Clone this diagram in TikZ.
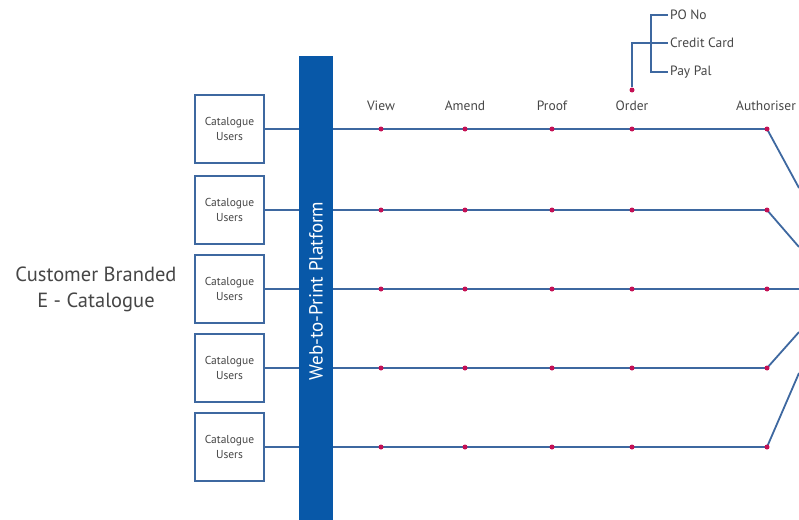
\documentclass[tikz,border=0pt]{standalone}
\usepackage{fontspec}
\setmainfont{PT Sans}
\usetikzlibrary{positioning}

\definecolor{linkblue}{RGB}{62,104,160}
\definecolor{barblue}{RGB}{8,88,168}
\definecolor{dotred}{RGB}{196,16,84}
\definecolor{textgrey}{RGB}{70,70,70}

\tikzset{
  userbox/.style={draw=linkblue, line width=1.2pt, fill=white,
    minimum width=69pt, minimum height=68pt, align=center, inner sep=1pt,
    text=textgrey, font=\fontsize{11.5}{15}\selectfont},
  link/.style={draw=linkblue, line width=1.8pt},
  dot/.style={circle, fill=dotred, inner sep=0pt, minimum size=5pt},
  steplabel/.style={text=textgrey, font=\fontsize{13.5}{16}\selectfont},
  paylabel/.style={text=textgrey, anchor=west, inner sep=2pt,
    font=\fontsize{13.5}{16}\selectfont}
}

\begin{document}
\begin{tikzpicture}[x=1pt, y=-1pt]
  \useasboundingbox (0,0) rectangle (799,519);
  \clip (0,0) rectangle (799,519);

  % title on the left
  \node[text=textgrey, align=center, font=\fontsize{20.5}{26}\selectfont]
    (title) at (96,289) {Customer Branded\\E - Catalogue};

  % platform bar
  \node[fill=barblue, minimum width=34pt, minimum height=480pt,
    inner sep=0pt, anchor=north] (platform) at (316,56) {};
  \node[rotate=90, text=white, font=\fontsize{19}{22}\selectfont]
    (platformtext) at (316,291) {Web-to-Print Platform};

  % user rows
  \foreach \i/\y in {1/129, 2/210, 3/289, 4/368, 5/447} {
    \node[userbox] (user\i) at (229.5,\y) {Catalogue\\Users};
    \foreach \j/\x in {1/381, 2/465, 3/552, 4/632, 5/767}
      \coordinate (p\i-\j) at (\x,\y);
    \draw[link] (user\i.east) -- (user\i.east -| platform.west);
    \draw[link] (user\i.east -| platform.east) -- (p\i-5);
  }

  % lines leaving to the right
  \coordinate (out1) at (799,188);
  \coordinate (out2) at (799,247);
  \coordinate (out3) at (799,289);
  \coordinate (out4) at (799,332);
  \coordinate (out5) at (799,373);
  \foreach \i in {1,...,5}
    \draw[link] (p\i-5) -- (out\i);

  % dots on every step
  \foreach \i in {1,...,5}
    \foreach \j in {1,...,5}
      \node[dot] (d\i-\j) at (p\i-\j) {};

  % step names
  \node[steplabel] (view) at (381,106) {View};
  \node[steplabel] (amend) at (465,106) {Amend};
  \node[steplabel] (proof) at (552,106) {Proof};
  \node[steplabel] (order) at (632,106) {Order};
  \node[steplabel] (auth) at (766,106) {Authoriser};

  % payment options
  \node[dot] (orderdot) at (632,90) {};
  \coordinate (spinetop) at (651,15);
  \coordinate (spinebot) at (651,72);
  \node[paylabel] (pono) at (668,15) {PO No};
  \node[paylabel] (card) at (668,43) {Credit Card};
  \node[paylabel] (paypal) at (668,72) {Pay Pal};
  \draw[link, line width=1.4pt] (orderdot) |- (card.west);
  \draw[link, line width=1.4pt] (spinetop -| pono.west) -- (spinetop)
    -- (spinebot) -- (spinebot -| paypal.west);
\end{tikzpicture}
\end{document}
